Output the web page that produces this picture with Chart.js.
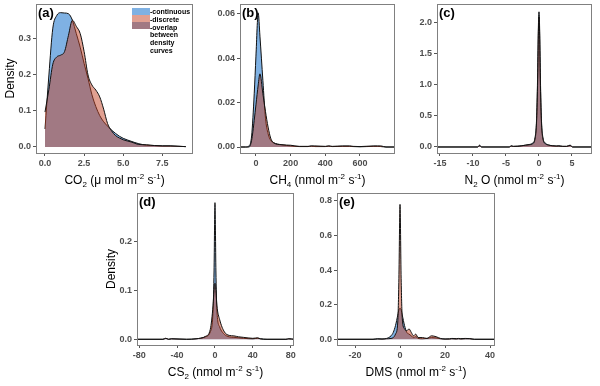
<!DOCTYPE html>
<html>
<head>
<meta charset="utf-8">
<script src="https://cdn.jsdelivr.net/npm/chart.js@4.4.1/dist/chart.umd.min.js"></script>
<style>
  html, body { margin: 0; padding: 0; background: #fff; }
  #wrap { position: relative; width: 600px; height: 386px; overflow: hidden; }
  canvas { position: absolute; }
</style>
</head>
<body>
<div id="wrap"></div>
<script>
// (a) CO2
const aX    = [0, 0.25, 0.5, 0.75, 1, 1.25, 1.5, 1.75, 2, 2.25, 2.5, 2.75, 3, 3.25, 3.5, 3.75, 4, 4.25, 4.5, 4.75, 5, 5.5, 6, 6.5, 7, 7.5, 8, 8.5, 9];
const aCont = [0.05, 0.2, 0.33, 0.365, 0.373, 0.372, 0.37, 0.352, 0.315, 0.277, 0.232, 0.19, 0.145, 0.112, 0.087, 0.07, 0.058, 0.047, 0.038, 0.03, 0.024, 0.016, 0.009, 0.005, 0.004, 0.003, 0.003, 0.002, 0.001];
const aDisc = [0.097, 0.16, 0.23, 0.25, 0.255, 0.265, 0.31, 0.352, 0.335, 0.315, 0.265, 0.2, 0.172, 0.158, 0.139, 0.105, 0.065, 0.045, 0.032, 0.025, 0.02, 0.014, 0.007, 0.006, 0.004, 0.003, 0.003, 0.002, 0.001];
const aXTicks = ['0.0', '2.5', '5.0', '7.5'];
const aYTicks = ['0.0', '0.1', '0.2', '0.3'];

// (b) CH4
const bX    = [-92, -60, -40, -25, -10, 0, 13, 23, 40, 55, 70, 85, 100, 150, 200, 250, 300, 320, 340, 400, 420, 440, 500, 540, 560, 600, 680, 700, 720, 750, 802];
const bCont = [0, 0, 0.0005, 0.005, 0.024, 0.041, 0.0605, 0.05, 0.03, 0.013, 0.006, 0.003, 0.002, 0.001, 0.0005, 0.0002, 0.0002, 0.0004, 0.0002, 0.0002, 0.0004, 0.0002, 0.0003, 0.0003, 0.0002, 0.0001, 0.0003, 0.0003, 0.0002, 0, 0];
const bDisc = [0, 0, 0, 0.003, 0.012, 0.019, 0.028, 0.033, 0.024, 0.016, 0.009, 0.004, 0.002, 0.001, 0.0008, 0.0003, 0.0003, 0.0005, 0.0005, 0.0003, 0.0005, 0.0003, 0.0005, 0.0005, 0.0003, 0.0002, 0.0005, 0.0005, 0.0005, 0, 0];
const bXTicks = ['0', '200', '400', '600'];
const bYTicks = ['0.00', '0.02', '0.04', '0.06'];

// (c) N2O
const cX    = [-15.45, -9.3, -9, -8.7, -4.5, -4.2, -3.9, -3.2, -2.6, -2, -1.5, -1, -0.6, -0.35, -0.2, -0.1, 0, 0.1, 0.2, 0.35, 0.6, 1, 1.5, 2, 2.6, 3, 3.6, 4.2, 4.7, 5.1, 8.03];
const cCont = [0, 0, 0.03, 0, 0, 0.02, 0.01, 0.015, 0.02, 0.03, 0.04, 0.06, 0.15, 0.5, 1.2, 1.9, 2.18, 1.9, 1.2, 0.5, 0.15, 0.06, 0.03, 0.02, 0.015, 0.02, 0.01, 0.01, 0.03, 0, 0];
const cDisc = [0, 0, 0.02, 0, 0, 0.015, 0.01, 0.01, 0.02, 0.03, 0.035, 0.05, 0.13, 0.45, 1.1, 1.8, 2.1, 1.8, 1.1, 0.45, 0.13, 0.05, 0.03, 0.02, 0.015, 0.015, 0.01, 0.01, 0.025, 0, 0];
const cXTicks = ['-15', '-10', '-5', '0', '5'];
const cYTicks = ['0.0', '0.5', '1.0', '1.5', '2.0'];

// (d) CS2
const dX    = [-82.4, -55, -52, -49, -46, -30, -20, -10, -5, -2, -1, 0, 1, 2, 5, 10, 15, 20, 25, 30, 40, 45, 48, 55, 75, 78, 83.5];
const dCont = [0, 0, 0.002, 0, 0.001, 0, 0.001, 0.005, 0.015, 0.06, 0.14, 0.28, 0.14, 0.06, 0.025, 0.01, 0.005, 0.004, 0.003, 0.002, 0.001, 0.002, 0.001, 0, 0, 0.001, 0];
const dDisc = [0, 0, 0.002, 0, 0.001, 0, 0.001, 0.006, 0.02, 0.07, 0.1, 0.115, 0.1, 0.07, 0.04, 0.015, 0.008, 0.007, 0.005, 0.004, 0.002, 0.003, 0.001, 0, 0, 0.001, 0];
const dXTicks = ['-80', '-40', '0', '40', '80'];
const dYTicks = ['0.0', '0.1', '0.2'];

// (e) DMS
const eX    = [-28, -12, -10, -8, -6, -4, -3, -2, -1, -0.5, 0, 0.5, 1, 2, 3, 4, 5, 6, 7, 8, 10, 12, 14, 16, 18, 20, 22, 23, 25, 26, 27, 29, 31, 33, 42.2];
const eCont = [0, 0, 0.003, 0.002, 0.005, 0.02, 0.04, 0.08, 0.14, 0.17, 0.18, 0.17, 0.14, 0.08, 0.04, 0.03, 0.02, 0.01, 0.015, 0.005, 0.003, 0.005, 0.01, 0.008, 0.003, 0.001, 0.001, 0.003, 0.001, 0.003, 0.001, 0.003, 0.003, 0, 0];
const eDisc = [0, 0, 0.002, 0.001, 0.003, 0.005, 0.01, 0.03, 0.1, 0.35, 0.78, 0.35, 0.12, 0.06, 0.05, 0.06, 0.04, 0.02, 0.03, 0.01, 0.01, 0.005, 0.02, 0.015, 0.005, 0.002, 0.003, 0.005, 0.004, 0.005, 0.004, 0.005, 0.004, 0, 0];
const eXTicks = ['-20', '0', '20', '40'];
const eYTicks = ['0.0', '0.2', '0.4', '0.6', '0.8'];

const legendLabels = ['-continuous', '-discrete', '-overlap', 'between', 'density', 'curves'];

const BLUE = 'rgba(0,100,200,0.5)';
const RED = 'rgba(195,65,35,0.5)';
const FONT = '"Liberation Sans", Arial, sans-serif';
const AXIS_W = 36, AXIS_H = 40, PAD = 8;

const sub = (t) => [t, 1], sup = (t) => [t, 2], txt = (t) => [t, 0];
const unitTail = [txt(' (nmol m'), sup('-2'), txt(' s'), sup('-1'), txt(')')];

const panels = [
  { tag: '(a)', box: [36, 4, 193, 153], x: aX, cont: aCont, disc: aDisc,
    xLim: [-0.575, 9.46], yLim: [-0.0167, 0.397], xTicks: aXTicks, yTicks: aYTicks,
    title: [txt('CO'), sub('2'), txt(' (\u03bc mol m'), sup('-2'), txt(' s'), sup('-1'), txt(')')],
    yTitle: true, legend: true },
  { tag: '(b)', box: [240, 4, 395, 153], x: bX, cont: bCont, disc: bDisc,
    xLim: [-92, 802], yLim: [-0.0027, 0.0645], xTicks: bXTicks, yTicks: bYTicks,
    title: [txt('CH'), sub('4')].concat(unitTail) },
  { tag: '(c)', box: [437, 4, 592, 153], x: cX, cont: cCont, disc: cDisc,
    xLim: [-15.45, 8.03], yLim: [-0.097, 2.306], xTicks: cXTicks, yTicks: cYTicks,
    title: [txt('N'), sub('2'), txt(' O')].concat(unitTail) },
  { tag: '(d)', box: [137, 193, 294, 345], x: dX, cont: dCont, disc: dDisc,
    xLim: [-82.4, 83.5], yLim: [-0.0117, 0.2998], xTicks: dXTicks, yTicks: dYTicks,
    title: [txt('CS'), sub('2')].concat(unitTail), yTitle: true },
  { tag: '(e)', box: [337, 193, 495, 345], x: eX, cont: eCont, disc: eDisc,
    xLim: [-28, 42.2], yLim: [-0.033, 0.846], xTicks: eXTicks, yTicks: eYTicks,
    title: [txt('DMS')].concat(unitTail) }
];

function drawRich(ctx, segs, cx, base) {
  const fnt = k => (k ? '8px ' : '12px ') + FONT;
  let w = 0;
  segs.forEach(([t, k]) => { ctx.font = fnt(k); w += ctx.measureText(t).width; });
  let x = cx - w / 2;
  ctx.textAlign = 'left';
  ctx.textBaseline = 'alphabetic';
  segs.forEach(([t, k]) => {
    ctx.font = fnt(k);
    ctx.fillText(t, x, base + (k === 1 ? 3 : k === 2 ? -5 : 0));
    x += ctx.measureText(t).width;
  });
}

function decoPlugin(p) {
  return {
    id: 'deco',
    afterDraw(chart) {
      const ctx = chart.ctx, a = chart.chartArea;
      ctx.save();
      // panel border
      ctx.strokeStyle = '#808080';
      ctx.lineWidth = 1;
      ctx.strokeRect(Math.round(a.left) + 0.5, Math.round(a.top) + 0.5,
        Math.round(a.right - a.left) - 1, Math.round(a.bottom - a.top));
      // panel tag
      ctx.fillStyle = '#000';
      ctx.font = 'bold 13px ' + FONT;
      ctx.textAlign = 'left';
      ctx.textBaseline = 'alphabetic';
      ctx.fillText(p.tag, a.left + 2, a.top + 13);
      // x title
      drawRich(ctx, p.title, (a.left + a.right) / 2, a.bottom + 31);
      // y title
      if (p.yTitle) {
        ctx.save();
        ctx.translate(a.left - 25, (a.top + a.bottom) / 2);
        ctx.rotate(-Math.PI / 2);
        ctx.font = '12px ' + FONT;
        ctx.textAlign = 'center';
        ctx.textBaseline = 'middle';
        ctx.fillText('Density', 0, 0);
        ctx.restore();
      }
      // legend inside (a)
      if (p.legend) {
        const sx = a.right - 61, sy = a.top + 4, sw = 18, sh = 7;
        ctx.fillStyle = BLUE; ctx.fillRect(sx, sy, sw, sh);
        ctx.fillStyle = RED; ctx.fillRect(sx, sy + sh, sw, sh);
        ctx.fillStyle = BLUE; ctx.fillRect(sx, sy + 2 * sh, sw, sh);
        ctx.fillStyle = RED; ctx.fillRect(sx, sy + 2 * sh, sw, sh);
        ctx.fillStyle = '#000';
        ctx.font = 'bold 7px ' + FONT;
        legendLabels.forEach((t, i) => {
          ctx.fillText(t, sx + sw, sy + 6 + i * 7.8);
        });
      }
      ctx.restore();
    }
  };
}

const wrap = document.getElementById('wrap');

function makePanel(p) {
  const [L, T, R, B] = p.box;
  const cv = document.createElement('canvas');
  cv.width = R - L + AXIS_W + PAD;
  cv.height = B - T + PAD + AXIS_H;
  cv.style.left = (L - AXIS_W) + 'px';
  cv.style.top = (T - PAD) + 'px';
  wrap.appendChild(cv);

  const pts = ys => p.x.map((x, i) => ({ x: x, y: ys[i] }));
  const tickFont = { family: FONT, size: 9, weight: 'bold' };
  const grid = { drawOnChartArea: false, drawTicks: true, tickLength: 3, tickColor: '#555' };
  const series = (label, ys, color, order) => ({
    label: label, data: pts(ys), order: order,
    backgroundColor: color, borderColor: '#111', borderWidth: 1,
    fill: 'origin', pointRadius: 0, cubicInterpolationMode: 'monotone'
  });

  new Chart(cv, {
    type: 'line',
    data: {
      datasets: [
        series('discrete', p.disc, RED, 1),
        series('continuous', p.cont, BLUE, 2)
      ]
    },
    options: {
      responsive: false,
      animation: false,
      devicePixelRatio: 1,
      layout: { padding: { left: 0, top: PAD, right: PAD, bottom: 0 } },
      plugins: { legend: { display: false }, tooltip: { enabled: false } },
      scales: {
        x: {
          type: 'linear', min: p.xLim[0], max: p.xLim[1],
          afterFit: s => { s.height = AXIS_H; s.paddingLeft = 0; s.paddingRight = 0; },
          afterBuildTicks: s => { s.ticks = p.xTicks.map(t => ({ value: parseFloat(t) })); },
          ticks: { callback: (v, i) => p.xTicks[i], font: tickFont, color: '#4d4d4d',
                   padding: 2, maxRotation: 0, autoSkip: false },
          grid: grid, border: { display: false }
        },
        y: {
          type: 'linear', min: p.yLim[0], max: p.yLim[1],
          afterFit: s => { s.width = AXIS_W; s.paddingTop = 0; s.paddingBottom = 0; },
          afterBuildTicks: s => { s.ticks = p.yTicks.map(t => ({ value: parseFloat(t) })); },
          ticks: { callback: (v, i) => p.yTicks[i], font: tickFont, color: '#4d4d4d',
                   padding: 2, autoSkip: false },
          grid: grid, border: { display: false }
        }
      }
    },
    plugins: [decoPlugin(p)]
  });
}

panels.forEach(makePanel);
</script>
</body>
</html>
